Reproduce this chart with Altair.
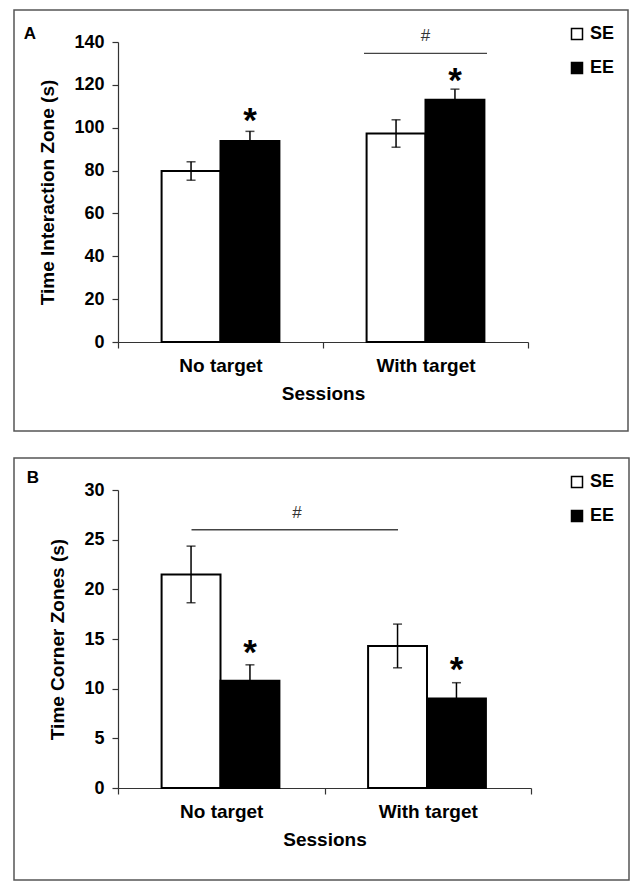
import altair as alt
import pandas as pd

sessions = ["No target", "With target"]
groups = ["SE", "EE"]

# Panel A: Time Interaction Zone (s)
a_se_mean = [79.8, 97.3]
a_se_err = [4.3, 6.4]
a_ee_mean = [93.8, 113.0]
a_ee_err = [4.5, 5.0]
a_ticks = [0, 20, 40, 60, 80, 100, 120, 140]
a_star_y = [106.5, 125.0]
a_sig_line_y = [134.7]
a_sig_mark_y = [143.0]

# Panel B: Time Corner Zones (s)
b_se_mean = [21.5, 14.3]
b_se_err = [2.85, 2.2]
b_ee_mean = [10.8, 9.0]
b_ee_err = [1.6, 1.6]
b_ticks = [0, 5, 10, 15, 20, 25, 30]
b_star_y = [14.3, 12.6]
b_sig_line_y = [26.0]
b_sig_mark_y = [27.7]

FONT = "Liberation Sans"


def panel(se_mean, se_err, ee_mean, ee_err, ticks, ymax, ytitle, star_y,
          sig_start, sig_end, sig_b0, sig_b1, sig_mid, sig_line_y, sig_mark_y,
          letter, width, height, border, letter_xy):
    df = pd.DataFrame({
        "session": sessions * 2,
        "group": ["SE"] * 2 + ["EE"] * 2,
        "mean": se_mean + ee_mean,
        "err": se_err + ee_err,
    })
    df["lo"] = df["mean"] - df["err"]
    df["hi"] = df["mean"] + df["err"]

    xscale = alt.Scale(domain=sessions, paddingInner=0, paddingOuter=0)
    xaxis = alt.Axis(title="Sessions", labelAngle=0, tickBand="extent")
    x = alt.X("session:N", sort=sessions, scale=xscale, axis=xaxis)
    xo = alt.XOffset("group:N", sort=groups,
                     scale=alt.Scale(domain=groups, paddingInner=0, paddingOuter=0.74))
    yscale = alt.Scale(domain=[0, ymax], nice=False)
    yaxis = alt.Axis(values=ticks, title=ytitle, grid=False)

    base = alt.Chart(df)
    bars = base.mark_bar(stroke="black", strokeWidth=2).encode(
        x=x, xOffset=xo,
        y=alt.Y("mean:Q", scale=yscale, axis=yaxis),
        fill=alt.Fill("group:N", sort=groups,
                      scale=alt.Scale(domain=groups, range=["white", "black"]),
                      legend=alt.Legend(orient="none", legendX=450, legendY=-17,
                                        title=None, symbolType="square", symbolSize=121,
                                        symbolStrokeColor="black", symbolStrokeWidth=1.5,
                                        labelFont=FONT, labelFontSize=18,
                                        labelFontWeight="bold", labelColor="black",
                                        labelOffset=4, rowPadding=16)),
    )
    stems = base.mark_rule(color="black", strokeWidth=1.5).encode(
        x=x, xOffset=xo,
        y=alt.Y("lo:Q", scale=yscale, axis=yaxis), y2="hi:Q")
    caps_hi = base.mark_tick(color="black", size=9, thickness=1.5).encode(
        x=x, xOffset=xo, y=alt.Y("hi:Q", scale=yscale, axis=yaxis))
    caps_lo = base.mark_tick(color="black", size=9, thickness=1.5).encode(
        x=x, xOffset=xo, y=alt.Y("lo:Q", scale=yscale, axis=yaxis))

    star_df = pd.DataFrame({"session": sessions, "group": ["EE", "EE"],
                            "sy": star_y, "t": ["*", "*"]})
    stars = alt.Chart(star_df).mark_text(font=FONT, fontSize=35, fontWeight="bold",
                                         color="black", baseline="middle", dy=7).encode(
        x=x, xOffset=xo, y=alt.Y("sy:Q", scale=yscale, axis=yaxis), text="t:N")

    sig_df = pd.DataFrame({"s": [sig_start], "e": [sig_end], "m": [sig_mid[0]],
                           "ly": sig_line_y, "my": sig_mark_y, "t": ["#"]})
    sig_line = alt.Chart(sig_df).mark_rule(color="#444", strokeWidth=1.3).encode(
        x=alt.X("s:N", bandPosition=sig_b0, scale=xscale, axis=xaxis),
        x2=alt.X2("e:N", bandPosition=sig_b1),
        y=alt.Y("ly:Q", scale=yscale, axis=yaxis))
    sig_mark = alt.Chart(sig_df).mark_text(font=FONT, fontSize=17, color="#333",
                                           baseline="middle").encode(
        x=alt.X("m:N", bandPosition=sig_mid[1], scale=xscale, axis=xaxis),
        y=alt.Y("my:Q", scale=yscale, axis=yaxis), text="t:N")

    one = pd.DataFrame({"t": [letter]})
    frame = alt.Chart(one).mark_rect(fill="transparent", stroke="#555",
                                     strokeWidth=1.5).encode(
        x=alt.value(border[0]), x2=alt.value(border[1]),
        y=alt.value(border[2]), y2=alt.value(border[3]))
    lab = alt.Chart(one).mark_text(font=FONT, fontSize=17, fontWeight="bold",
                                   color="black", baseline="middle").encode(
        x=alt.value(letter_xy[0]), y=alt.value(letter_xy[1]), text="t:N")

    return alt.layer(frame, bars, stems, caps_hi, caps_lo, stars, sig_line, sig_mark,
                     lab).properties(width=width, height=height)


pa = panel(a_se_mean, a_se_err, a_ee_mean, a_ee_err, a_ticks, 140,
           "Time Interaction Zone (s)", a_star_y,
           "With target", "With target", 0.2, 0.8, ("With target", 0.5),
           a_sig_line_y, a_sig_mark_y, "A", 410, 300,
           (-104, 510, -32, 389), (-88, -8))
pb = panel(b_se_mean, b_se_err, b_ee_mean, b_ee_err, b_ticks, 30,
           "Time Corner Zones (s)", b_star_y,
           "No target", "With target", 0.356, 0.356, ("No target", 0.867),
           b_sig_line_y, b_sig_mark_y, "B", 413, 298,
           (-104, 511, -32, 390), (-85, -12))

chart = alt.vconcat(pa, pb, spacing=25).resolve_scale(fill="independent").properties(
    padding={"left": 5, "top": 1, "right": 0, "bottom": 0}
).configure_view(strokeWidth=0).configure_axis(
    labelFont=FONT, labelFontSize=18, labelFontWeight="bold", labelColor="black",
    titleFont=FONT, titleFontSize=19, titleFontWeight="bold", titleColor="black",
    domainColor="#333", tickColor="#333", domainWidth=1.2, tickWidth=1.2, tickSize=6,
    labelPadding=8,
).configure_axisY(titlePadding=16).configure_axisX(
    labelFontSize=19, titleFontSize=19, labelPadding=8, titlePadding=9)

chart.save("out.html", embed_options={"renderer": "svg", "actions": False})
